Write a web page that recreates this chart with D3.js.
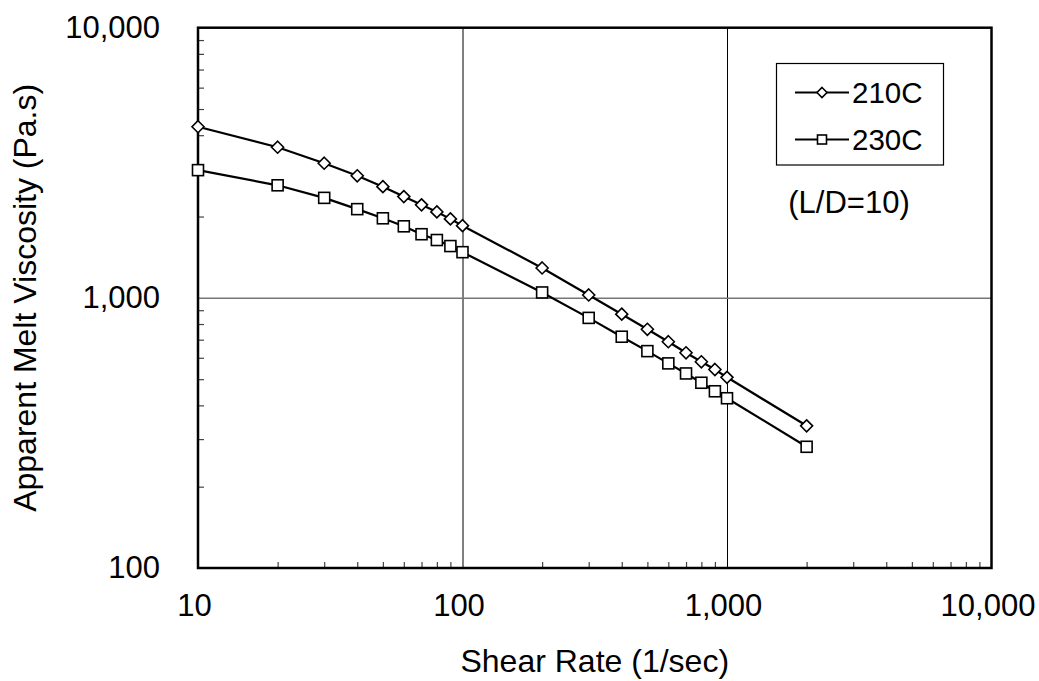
<!DOCTYPE html>
<html>
<head>
<meta charset="utf-8">
<script src="https://cdn.jsdelivr.net/npm/d3@7"></script>
<style>
  body { margin: 0; background: #fff; }
  svg { display: block; font-family: "Liberation Sans", Arial, sans-serif; }
  .domain { display: none; }
</style>
</head>
<body>
<div id="chart"></div>
<script>
// shear rate (1/sec)
const shearRate = [10, 20, 30, 40, 50, 60, 70, 80, 90, 100,
  200, 300, 400, 500, 600, 700, 800, 900, 1000, 2000];
// apparent melt viscosity (Pa.s)
const visc210 = [4300, 3610, 3150, 2830, 2580, 2370, 2210, 2080, 1960, 1850,
  1290, 1025, 870, 765, 688, 626, 580, 543, 508, 336];
const visc230 = [2970, 2610, 2345, 2130, 1970, 1840, 1720, 1637, 1555, 1476,
  1047, 843, 718, 635, 572, 525, 485, 451, 425, 281];

const seriesNames = ["210C", "230C"];
const xTicks = [10, 100, 1000, 10000];
const yTicks = [100, 1000, 10000];

const W = 1039, H = 681;
const pLeft = 198, pRight = 991.5, pTop = 27.7, pBottom = 568;

const svg = d3.select("#chart").append("svg").attr("width", W).attr("height", H);

const x = d3.scaleLog().domain([10, 10000]).range([pLeft, pRight]);
const y = d3.scaleLog().domain([100, 10000]).range([pBottom, pTop]);

const fmt = d3.format(",");

// minor ticks (2..9 in each decade), pointing into the plot
const minorX = [], minorY = [];
[10, 100, 1000].forEach(d => { for (let k = 2; k < 10; k++) minorX.push(d * k); });
[100, 1000].forEach(d => { for (let k = 2; k < 10; k++) minorY.push(d * k); });

svg.append("g")
  .attr("transform", "translate(0," + pBottom + ")")
  .call(d3.axisBottom(x).tickValues(minorX).tickSize(-6).tickFormat(""))
  .call(g => g.selectAll("line").attr("stroke", "#444").attr("stroke-width", 1.2));

svg.append("g")
  .attr("transform", "translate(" + pLeft + ",0)")
  .call(d3.axisLeft(y).tickValues(minorY).tickSize(-6).tickFormat(""))
  .call(g => g.selectAll("line").attr("stroke", "#444").attr("stroke-width", 1.2));

// major gridlines
svg.append("g")
  .attr("transform", "translate(0," + pBottom + ")")
  .call(d3.axisBottom(x).tickValues([100, 1000]).tickSize(-(pBottom - pTop)).tickFormat(""))
  .call(g => g.selectAll("line").attr("stroke", "#000").attr("stroke-width", 1));

svg.append("g")
  .attr("transform", "translate(" + pLeft + ",0)")
  .call(d3.axisLeft(y).tickValues([1000]).tickSize(-(pRight - pLeft)).tickFormat(""))
  .call(g => g.selectAll("line").attr("stroke", "#777").attr("stroke-width", 1.5));

// tick labels
svg.append("g")
  .attr("transform", "translate(0," + pBottom + ")")
  .call(d3.axisBottom(x).tickValues(xTicks).tickSize(0).tickPadding(26).tickFormat(fmt))
  .call(g => g.selectAll("text").attr("font-size", 31).attr("fill", "#000").attr("dx", -4)
    .attr("font-family", "'Liberation Sans', Arial, sans-serif"));

svg.append("g")
  .attr("transform", "translate(" + pLeft + ",0)")
  .call(d3.axisLeft(y).tickValues(yTicks).tickSize(0).tickPadding(38).tickFormat(fmt))
  .call(g => g.selectAll("text").attr("font-size", 31).attr("fill", "#000")
    .attr("font-family", "'Liberation Sans', Arial, sans-serif"));

// plot frame
svg.append("rect")
  .attr("x", pLeft).attr("y", pTop)
  .attr("width", pRight - pLeft).attr("height", pBottom - pTop)
  .attr("fill", "none").attr("stroke", "#000").attr("stroke-width", 2.5);

// axis titles
svg.append("text")
  .attr("x", (pLeft + pRight) / 2).attr("y", 672)
  .attr("text-anchor", "middle").attr("font-size", 32)
  .text("Shear Rate (1/sec)");

svg.append("text")
  .attr("transform", "translate(36," + (pTop + pBottom) / 2 + ") rotate(-90)")
  .attr("text-anchor", "middle").attr("font-size", 32)
  .text("Apparent Melt Viscosity (Pa.s)");

// series
const line = d3.line().x(d => x(d[0])).y(d => y(d[1]));
const data210 = shearRate.map((s, i) => [s, visc210[i]]);
const data230 = shearRate.map((s, i) => [s, visc230[i]]);

const diamond = (g, cx, cy, r) => g.append("path")
  .attr("d", "M" + cx + "," + (cy - r) + "L" + (cx + r) + "," + cy + "L" + cx + "," + (cy + r) + "L" + (cx - r) + "," + cy + "Z")
  .attr("fill", "#fff").attr("stroke", "#000").attr("stroke-width", 1.6);
const square = (g, cx, cy, s) => g.append("rect")
  .attr("x", cx - s / 2).attr("y", cy - s / 2).attr("width", s).attr("height", s)
  .attr("fill", "#fff").attr("stroke", "#000").attr("stroke-width", 1.6);

[data210, data230].forEach((d, si) => {
  const g = svg.append("g");
  g.append("path").datum(d).attr("d", line)
    .attr("fill", "none").attr("stroke", "#000").attr("stroke-width", 2.2);
  d.forEach(p => {
    if (si === 0) diamond(g, x(p[0]), y(p[1]), 6);
    else square(g, x(p[0]), y(p[1]), 11);
  });
});

// legend
const lg = svg.append("g");
lg.append("rect").attr("x", 776.5).attr("y", 63.5).attr("width", 167).attr("height", 101.5)
  .attr("fill", "#fff").attr("stroke", "#000").attr("stroke-width", 1.2);
const rows = [92.5, 139.5];
seriesNames.forEach((name, i) => {
  const cy = rows[i];
  lg.append("line").attr("x1", 795).attr("x2", 849).attr("y1", cy).attr("y2", cy)
    .attr("stroke", "#000").attr("stroke-width", 2);
  if (i === 0) diamond(lg, 822, cy, 5);
  else square(lg, 822, cy, 9);
  lg.append("text").attr("x", 852).attr("y", cy + 10.5).attr("font-size", 29.5).text(name);
});

svg.append("text").attr("x", 849).attr("y", 213)
  .attr("text-anchor", "middle").attr("font-size", 31)
  .text("(L/D=10)");
</script>
</body>
</html>
